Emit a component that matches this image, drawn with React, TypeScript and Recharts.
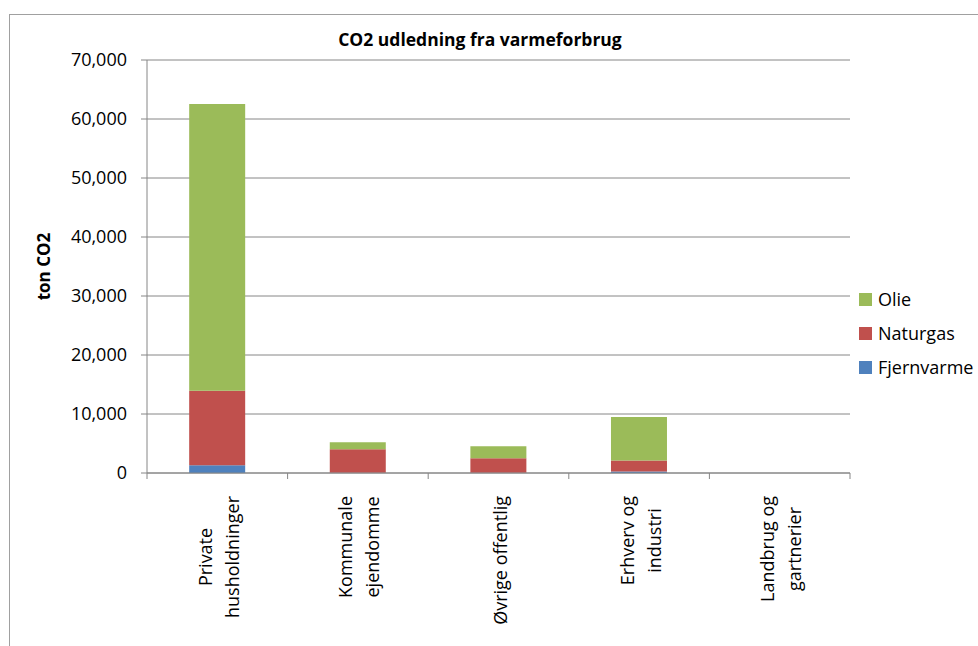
import { Bar, BarChart, CartesianGrid, XAxis, YAxis } from "recharts";

const categories = [
  "Private\nhusholdninger",
  "Kommunale\nejendomme",
  "Øvrige offentlig",
  "Erhverv og\nindustri",
  "Landbrug og\ngartnerier",
];

const fjernvarme = [1300, 60, 60, 260, 0];
const naturgas = [12620, 3970, 2440, 1840, 0];
const olie = [48620, 1200, 2050, 7390, 0];

const yTicks = [0, 10000, 20000, 30000, 40000, 50000, 60000, 70000];

const series = [
  { key: "fjernvarme", label: "Fjernvarme", color: "#4F81BD" },
  { key: "naturgas", label: "Naturgas", color: "#C0504D" },
  { key: "olie", label: "Olie", color: "#9BBB59" },
];

const data = categories.map((name, i) => ({
  name,
  fjernvarme: fjernvarme[i],
  naturgas: naturgas[i],
  olie: olie[i],
}));

const FONT = "'Open Sans', 'DejaVu Sans', sans-serif";
const FONT_SIZE = 18;
const AXIS = "#868686";
const PLOT_LEFT = 147;
const PLOT_RIGHT = 850;
const CATEGORY_WIDTH = (PLOT_RIGHT - PLOT_LEFT) / categories.length;
const LINE_GAP = 27;

let measureCtx: CanvasRenderingContext2D | null = null;
const measure = (text: string) => {
  if (!measureCtx) measureCtx = document.createElement("canvas").getContext("2d");
  if (!measureCtx) return text.length * FONT_SIZE * 0.52;
  measureCtx.font = `${FONT_SIZE}px 'Open Sans'`;
  return measureCtx.measureText(text).width;
};

const CategoryTick = ({ x, y, payload, index }: any) => {
  const lines = String(payload.value).split("\n");
  const half = CATEGORY_WIDTH / 2;
  const maxLen = Math.max(...lines.map(measure));
  const centerY = y + 23 + maxLen / 2;
  const isLast = index === categories.length - 1;
  return (
    <g>
      <line x1={x - half} x2={x - half} y1={y} y2={y + 6} stroke={AXIS} />
      {isLast && <line x1={x + half} x2={x + half} y1={y} y2={y + 6} stroke={AXIS} />}
      {lines.map((line, i) => {
        const lx = x + 1 + (i - (lines.length - 1) / 2) * LINE_GAP;
        return (
          <text
            key={i}
            x={lx}
            y={centerY}
            transform={`rotate(-90 ${lx} ${centerY})`}
            textAnchor="middle"
            dominantBaseline="central"
            fontFamily={FONT}
            fontSize={FONT_SIZE}
            fill="#000"
          >
            {line}
          </text>
        );
      })}
    </g>
  );
};

export default function App() {
  return (
    <div style={{ position: "absolute", left: 0, top: 0, width: 978, height: 646, overflow: "hidden", background: "#fff" }}>
      <div
        style={{
          position: "absolute",
          left: 9,
          top: 14,
          width: 1100,
          height: 800,
          borderTop: "1.5px solid #a0a0a0",
          borderLeft: "1.5px solid #a0a0a0",
        }}
      />
      <div
        style={{
          position: "absolute",
          left: 280,
          width: 400,
          top: 27,
          textAlign: "center",
          fontFamily: FONT,
          fontSize: 17.5,
          fontWeight: 700,
        }}
      >
        CO2 udledning fra varmeforbrug
      </div>
      <div style={{ position: "absolute", left: 0, top: 0 }}>
        <BarChart
          width={978}
          height={646}
          data={data}
          margin={{ top: 60, right: 978 - PLOT_RIGHT, bottom: 13, left: PLOT_LEFT - 60 }}
          barCategoryGap="30%"
        >
          <CartesianGrid vertical={false} stroke={AXIS} />
          <XAxis
            dataKey="name"
            interval={0}
            height={160}
            tickLine={false}
            tickSize={0}
            tickMargin={0}
            axisLine={{ stroke: AXIS }}
            tick={<CategoryTick />}
          />
          <YAxis
            width={60}
            domain={[0, 70000]}
            ticks={yTicks}
            interval={0}
            tickFormatter={(v: number) => v.toLocaleString("en-US")}
            tickSize={6}
            tickMargin={14}
            axisLine={{ stroke: AXIS }}
            tickLine={{ stroke: AXIS }}
            tick={{ fontFamily: FONT, fontSize: FONT_SIZE, fill: "#000" }}
            label={{
              value: "ton CO2",
              angle: -90,
              position: "insideLeft",
              dx: -48,
              style: { fontFamily: FONT, fontSize: 17, fontWeight: 700, fill: "#000", textAnchor: "middle" },
            }}
          />
          {series.map((s) => (
            <Bar key={s.key} dataKey={s.key} stackId="co2" fill={s.color} name={s.label} isAnimationActive={false} />
          ))}
        </BarChart>
      </div>
      <div
        style={{
          position: "absolute",
          left: 859,
          top: 282,
          fontFamily: FONT,
          fontSize: FONT_SIZE,
          color: "#000",
        }}
      >
        {[...series].reverse().map((s) => (
          <div key={s.key} style={{ display: "flex", alignItems: "center", height: 34 }}>
            <span style={{ width: 13, height: 13, background: s.color, marginRight: 6 }} />
            <span>{s.label}</span>
          </div>
        ))}
      </div>
    </div>
  );
}
